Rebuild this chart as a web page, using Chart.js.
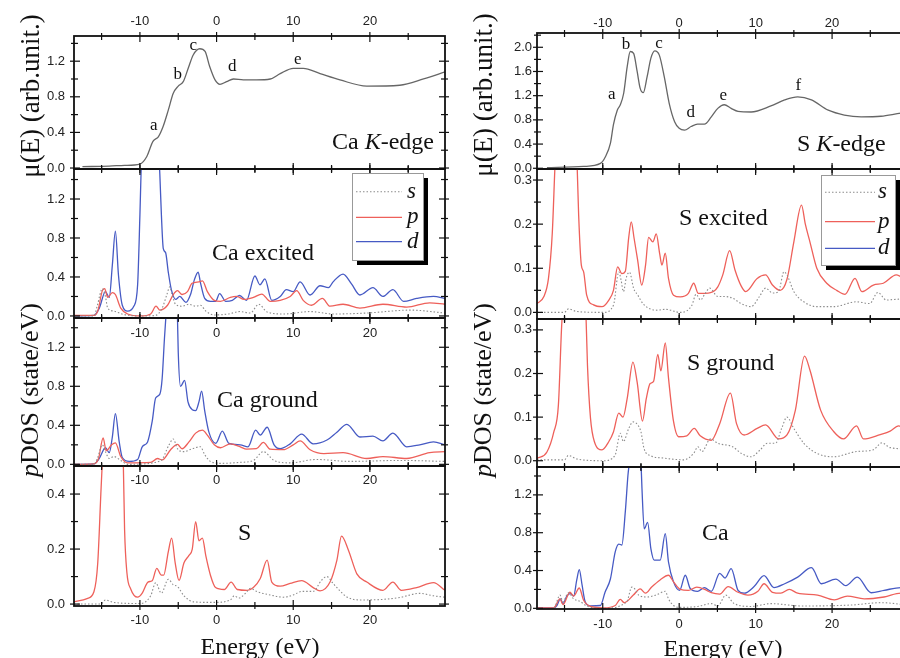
<!DOCTYPE html>
<html>
<head>
<meta charset="utf-8">
<script src="https://cdn.jsdelivr.net/npm/chart.js@4.4.1/dist/chart.umd.min.js"></script>
<style>
  body { margin: 0; width: 900px; height: 658px; overflow: hidden; background: #fff; position: relative;
         font-family: "Liberation Serif", "Times New Roman", serif; color: #111; }
  canvas { position: absolute; }
  .t { position: absolute; line-height: 1; white-space: nowrap; }
  .rot { position: absolute; line-height: 1; white-space: nowrap; transform: translate(-50%, -50%) rotate(-90deg); }
</style>
</head>
<body>
<script>
// energy axis (eV)
const energyMin = -18.6, energyMax = 29.8;
const energyMajor = [-10, 0, 10, 20];
const energyMinor = [-15, -5, 5, 15, 25];
const orbitals = ['s', 'p', 'd'];

// XANES spectra [E, mu]
const caEdge = [[-17.5,0.015],[-14,0.022],[-12,0.03],[-10,0.045],[-9.1,0.13],[-8.3,0.30],[-7.6,0.35],[-7.0,0.46],[-6.3,0.65],[-5.65,0.84],[-5.0,0.92],[-4.35,0.97],[-3.7,1.12],[-3.05,1.27],[-2.2,1.34],[-1.5,1.31],[-0.9,1.14],[-0.2,0.99],[0.44,0.94],[1.3,0.97],[2.2,1.0],[3.5,0.99],[5.2,0.99],[7.0,1.0],[8.3,1.06],[10,1.12],[11.3,1.12],[13.5,1.06],[16.1,0.99],[19.6,0.92],[23.9,0.93],[27,1.0],[29.8,1.08]];
const sEdge = [[-17.3,0.01],[-12.5,0.03],[-10.3,0.08],[-9.65,0.19],[-9.0,0.41],[-8.6,0.72],[-8.1,0.96],[-7.7,1.05],[-7.26,1.24],[-6.8,1.68],[-6.4,1.93],[-5.96,1.9],[-5.5,1.6],[-5.1,1.32],[-4.7,1.25],[-4.2,1.51],[-3.7,1.82],[-3.2,1.94],[-2.6,1.87],[-1.95,1.51],[-1.3,1.07],[-0.6,0.77],[0.0,0.66],[0.7,0.63],[1.55,0.69],[2.4,0.73],[3.3,0.73],[4.2,0.85],[5.05,0.99],[5.9,1.05],[6.8,0.99],[7.7,0.94],[9.4,0.93],[12.0,1.03],[13.8,1.13],[15.5,1.18],[17.3,1.13],[19.5,0.96],[21.6,0.88],[23.8,0.85],[26.4,0.86],[29.0,0.91],[29.8,0.92]];

// pDOS [E, states/eV]
const caExcitedS = [[-18.6,0],[-16,0],[-15.55,0.11],[-14.9,0.28],[-14.5,0.2],[-14.2,0.08],[-13.4,0.05],[-12.1,0.015],[-9.9,0],[-8.0,0.005],[-7.1,0.08],[-6.5,0.215],[-6.1,0.3],[-5.8,0.22],[-5.35,0.12],[-4.5,0.1],[-3.6,0.12],[-2.7,0.1],[-2.1,0.11],[-1.4,0.05],[-0.3,0.01],[1.5,0.02],[3.05,0.045],[4.4,0.03],[5.5,0.12],[6.6,0.04],[8.8,0.02],[12.2,0.045],[15.2,0.02],[19.6,0.03],[25.3,0.06],[29.8,0.03]];
const caExcitedP = [[-18.6,0.005],[-16,0.005],[-15.5,0.05],[-14.9,0.26],[-14.6,0.28],[-14.2,0.19],[-13.6,0.24],[-13.2,0.22],[-12.5,0.08],[-11.6,0.02],[-9.9,0],[-8.6,0.02],[-7.9,0.1],[-7.4,0.06],[-6.4,0.11],[-5.65,0.22],[-5.1,0.26],[-4.5,0.22],[-3.8,0.25],[-3.2,0.335],[-2.3,0.35],[-1.85,0.36],[-1.2,0.25],[-0.3,0.16],[0.5,0.15],[1.8,0.19],[2.6,0.2],[3.6,0.17],[4.8,0.19],[5.9,0.225],[7.0,0.15],[8.3,0.16],[9.6,0.2],[10.45,0.26],[11.3,0.16],[12.4,0.11],[13.8,0.18],[14.8,0.1],[16.5,0.12],[18.7,0.08],[21.7,0.12],[24.8,0.09],[27.8,0.135],[29.8,0.12]];
const caExcitedD = [[-18.6,0],[-16,0.005],[-15.3,0.08],[-14.5,0.25],[-14.0,0.19],[-13.6,0.52],[-13.2,0.87],[-12.8,0.42],[-12.3,0.11],[-11.6,0.05],[-10.8,0.1],[-10.3,0.32],[-10.0,1.04],[-9.7,1.9],[-9.2,2.8],[-8.5,3.1],[-7.9,2.6],[-7.6,1.8],[-7.4,1.45],[-7.2,1.04],[-6.95,0.69],[-6.65,0.65],[-6.3,0.45],[-5.9,0.27],[-5.35,0.17],[-4.8,0.2],[-4.0,0.14],[-3.4,0.22],[-2.9,0.37],[-2.4,0.45],[-2.1,0.34],[-1.55,0.18],[-0.8,0.15],[-0.13,0.15],[0.4,0.23],[1.2,0.15],[2.05,0.16],[3.0,0.21],[3.9,0.16],[5.0,0.41],[5.66,0.32],[6.3,0.38],[7.2,0.16],[8.3,0.2],[9.1,0.27],[10.0,0.25],[10.9,0.35],[12.2,0.215],[13.5,0.31],[14.6,0.29],[15.2,0.35],[16.5,0.43],[17.6,0.33],[18.7,0.215],[20.4,0.29],[21.7,0.2],[23.0,0.27],[24.4,0.15],[26.1,0.18],[28.3,0.2],[29.8,0.18]];

const caGroundS = [[-18.6,0],[-16,0],[-15.55,0.06],[-14.9,0.2],[-14.5,0.13],[-14.0,0.06],[-13.4,0.08],[-12.5,0.04],[-11.6,0.0],[-7.3,0.035],[-6.2,0.2],[-5.65,0.26],[-5.1,0.16],[-4.25,0.13],[-3.17,0.16],[-2.1,0.18],[-1.55,0.1],[-0.8,0.03],[0.5,0.01],[3.05,0.02],[4.8,0.04],[6.1,0.13],[7.5,0.04],[9.6,0.015],[13.0,0.05],[17.4,0.03],[23.9,0.04],[29.8,0.03]];
const caGroundP = [[-18.6,0],[-16,0.005],[-15.4,0.06],[-14.8,0.27],[-14.4,0.14],[-13.7,0.2],[-13.2,0.22],[-12.5,0.08],[-11.6,0.015],[-8.6,0.02],[-7.7,0.06],[-7.1,0.045],[-6.0,0.15],[-5.1,0.205],[-4.5,0.16],[-3.6,0.23],[-2.73,0.32],[-1.85,0.35],[-1.2,0.3],[-0.3,0.2],[0.5,0.17],[1.8,0.21],[3.1,0.18],[3.9,0.155],[5.2,0.16],[6.1,0.225],[7.0,0.155],[8.7,0.15],[10.0,0.2],[10.9,0.24],[12.2,0.15],[14.0,0.11],[16.5,0.12],[19.6,0.06],[21.7,0.08],[24.8,0.06],[27.8,0.12],[29.8,0.13]];
const caGroundD = [[-18.6,0],[-16,0.005],[-15.3,0.06],[-14.5,0.17],[-14.0,0.12],[-13.6,0.28],[-13.2,0.52],[-12.7,0.23],[-12.3,0.07],[-11.4,0.03],[-10.3,0.05],[-9.7,0.18],[-9.0,0.23],[-8.4,0.44],[-7.95,0.68],[-7.4,0.72],[-7.1,0.88],[-6.8,1.29],[-6.5,1.65],[-6.0,2.4],[-5.5,2.3],[-5.1,1.5],[-5.0,1.15],[-4.7,0.8],[-4.17,0.86],[-3.73,0.64],[-3.17,0.56],[-2.73,0.55],[-2.3,0.64],[-1.95,0.75],[-1.55,0.55],[-1.0,0.33],[-0.1,0.215],[0.75,0.34],[1.6,0.215],[3.1,0.2],[4.1,0.18],[5.1,0.35],[5.7,0.3],[6.6,0.38],[7.5,0.2],[8.3,0.16],[9.6,0.21],[11.1,0.31],[12.6,0.21],[14.4,0.25],[15.7,0.33],[17.0,0.41],[18.7,0.28],[20.4,0.29],[21.7,0.24],[23.0,0.32],[24.8,0.18],[26.5,0.2],[28.3,0.23],[29.8,0.2]];

const sBulkS = [[-18.6,0],[-15.1,0.0],[-14.5,0.015],[-13.4,0.006],[-9.9,0.002],[-8.6,0.03],[-7.95,0.077],[-7.2,0.04],[-6.3,0.09],[-5.65,0.07],[-5.1,0.064],[-4.25,0.03],[-2.95,0.008],[-0.3,0.006],[1.8,0.015],[2.3,0.03],[2.9,0.022],[3.8,0.04],[4.4,0.057],[5.3,0.045],[7.0,0.033],[8.7,0.025],[10.0,0.033],[11.1,0.046],[12.6,0.046],[13.7,0.087],[14.4,0.1],[15.2,0.075],[17.0,0.026],[18.7,0.015],[21.7,0.017],[23.9,0.024],[26.5,0.039],[28.3,0.03],[29.8,0.025]];
const sBulkP = [[-18.6,0.008],[-16.9,0.02],[-16,0.045],[-15.5,0.15],[-15.1,0.4],[-14.85,0.56],[-14.3,1.1],[-13.0,1.1],[-12.2,0.56],[-12.0,0.27],[-11.7,0.115],[-11.2,0.055],[-10.3,0.025],[-9.7,0.04],[-8.95,0.08],[-8.4,0.085],[-7.8,0.13],[-7.2,0.105],[-6.9,0.105],[-6.3,0.19],[-5.86,0.24],[-5.4,0.15],[-4.9,0.086],[-4.25,0.15],[-3.6,0.177],[-3.17,0.2],[-2.73,0.3],[-2.3,0.23],[-1.85,0.24],[-1.4,0.175],[-0.8,0.105],[-0.13,0.06],[1.0,0.053],[1.9,0.08],[2.7,0.053],[4.0,0.05],[4.8,0.06],[5.7,0.093],[6.6,0.16],[7.2,0.08],[8.3,0.065],[9.6,0.075],[11.1,0.085],[12.6,0.06],[13.5,0.048],[14.8,0.08],[15.7,0.16],[16.3,0.247],[17.2,0.196],[18.3,0.11],[19.6,0.08],[21.7,0.05],[23.0,0.08],[24.1,0.05],[26.1,0.06],[28.3,0.078],[29.8,0.05]];

const sExcitedS = [[-18.6,0],[-15,0],[-14.5,0.008],[-13.4,0.002],[-9.9,0],[-8.6,0.016],[-7.9,0.092],[-7.6,0.073],[-7.3,0.047],[-6.9,0.08],[-6.5,0.091],[-5.95,0.054],[-5.45,0.04],[-4.65,0.018],[-2.9,0.005],[-1.8,0.007],[0.14,0],[1.66,0.016],[2.2,0.041],[2.8,0.028],[3.3,0.04],[4.0,0.055],[5.05,0.036],[5.9,0.036],[7.0,0.032],[8.1,0.02],[9.4,0.013],[10.5,0.036],[11.3,0.055],[12.2,0.044],[13.0,0.047],[13.7,0.092],[14.1,0.085],[15.0,0.047],[16.3,0.024],[18.0,0.013],[20.2,0.013],[23.2,0.024],[24.9,0.02],[26.0,0.045],[27.1,0.028],[28.8,0.03],[29.8,0.028]];
const sExcitedP = [[-18.6,0.02],[-17.7,0.036],[-17.1,0.077],[-16.6,0.18],[-16.3,0.31],[-16.1,0.4],[-15.5,0.8],[-14.0,0.8],[-13.4,0.36],[-13.15,0.22],[-12.8,0.107],[-12.5,0.092],[-12.1,0.039],[-11.2,0.017],[-10.1,0.013],[-9.2,0.028],[-8.6,0.05],[-8.05,0.103],[-7.5,0.088],[-7.05,0.093],[-6.6,0.17],[-6.27,0.205],[-5.9,0.168],[-5.45,0.12],[-4.9,0.062],[-4.4,0.107],[-4.0,0.17],[-3.44,0.16],[-3.0,0.178],[-2.56,0.134],[-2.26,0.107],[-1.82,0.134],[-1.4,0.077],[-0.74,0.039],[0.14,0.035],[1.2,0.043],[1.9,0.066],[2.5,0.043],[4.1,0.045],[5.05,0.058],[5.7,0.085],[6.6,0.14],[7.3,0.096],[8.1,0.06],[8.7,0.047],[10.2,0.077],[11.3,0.085],[12.2,0.062],[13.2,0.05],[14.1,0.075],[15.0,0.16],[16.0,0.243],[16.5,0.2],[17.1,0.16],[18.0,0.1],[19.3,0.066],[20.6,0.05],[21.7,0.041],[23.0,0.077],[23.9,0.047],[25.4,0.062],[26.7,0.066],[28.4,0.085],[29.8,0.07]];

const sGroundS = [[-18.6,0.002],[-15,0.002],[-14.5,0.012],[-13.4,0.004],[-9.9,0],[-8.4,0.012],[-7.7,0.063],[-7.3,0.044],[-6.6,0.074],[-6.05,0.089],[-5.45,0.083],[-5.0,0.066],[-4.6,0.028],[-3.8,0.012],[-2.0,0.006],[0.6,0.002],[1.9,0.017],[2.45,0.032],[2.97,0.021],[4.1,0.05],[5.05,0.04],[7.0,0.032],[8.1,0.017],[9.4,0.009],[10.6,0.025],[11.5,0.04],[12.6,0.04],[13.4,0.074],[14.1,0.1],[15.0,0.074],[16.3,0.04],[18.0,0.017],[20.2,0.009],[23.2,0.021],[25.4,0.025],[26.5,0.041],[27.6,0.03],[29.8,0.027]];
const sGroundP = [[-18.6,0.005],[-17.3,0.02],[-16.4,0.066],[-15.8,0.128],[-15.4,0.3],[-15.1,0.4],[-14.5,0.8],[-13,0.8],[-12.3,0.4],[-12.0,0.22],[-11.6,0.097],[-11.1,0.044],[-10.1,0.025],[-9.2,0.044],[-8.6,0.066],[-7.9,0.109],[-7.35,0.1],[-6.8,0.143],[-6.05,0.226],[-5.5,0.18],[-4.8,0.091],[-4.3,0.143],[-3.8,0.177],[-3.35,0.182],[-2.8,0.244],[-2.4,0.206],[-1.82,0.27],[-1.4,0.19],[-0.74,0.09],[-0.08,0.055],[1.0,0.057],[1.97,0.074],[2.75,0.057],[4.2,0.047],[5.3,0.085],[6.7,0.155],[7.5,0.085],[8.5,0.059],[10.2,0.074],[11.3,0.082],[13.0,0.05],[14.1,0.059],[15.2,0.116],[16.4,0.24],[17.1,0.208],[18.5,0.116],[20.2,0.067],[21.5,0.05],[23.2,0.08],[24.1,0.05],[26.3,0.06],[27.6,0.068],[28.7,0.08],[29.8,0.068]];

const caBulkS = [[-18.6,0],[-16.4,0],[-15.6,0.14],[-15.2,0.07],[-14.5,0.165],[-13.8,0.1],[-12.9,0.07],[-12.1,0.025],[-9.9,0],[-6.85,0.07],[-6.2,0.225],[-5.75,0.2],[-5.3,0.14],[-4.2,0.12],[-2.9,0.145],[-1.82,0.18],[-1.4,0.1],[-0.74,0.03],[0.14,0.01],[2.4,0.02],[4.2,0.05],[5.05,0.025],[6.1,0.14],[7.2,0.05],[9.4,0.02],[12.0,0.05],[16.0,0.025],[22.5,0.035],[26.4,0.06],[29.8,0.035]];
const caBulkP = [[-18.6,0.005],[-16.4,0.005],[-15.6,0.1],[-15.2,0.04],[-14.3,0.17],[-13.8,0.13],[-13.07,0.215],[-12.5,0.085],[-11.6,0.02],[-9.9,0.005],[-8.36,0.03],[-7.7,0.095],[-7.2,0.06],[-6.0,0.14],[-5.1,0.205],[-4.4,0.16],[-3.6,0.225],[-2.5,0.3],[-1.4,0.35],[-0.74,0.28],[0.14,0.2],[1.2,0.19],[2.3,0.225],[3.6,0.19],[4.2,0.165],[5.3,0.15],[6.4,0.23],[7.7,0.17],[9.0,0.14],[10.3,0.18],[11.1,0.26],[12.2,0.17],[13.3,0.16],[14.4,0.2],[15.5,0.16],[18.1,0.14],[20.3,0.09],[22.0,0.13],[24.2,0.1],[26.8,0.12],[29.0,0.16],[29.8,0.16]];
const caBulkD = [[-18.6,0.005],[-16.4,0.005],[-16.0,0.03],[-15.55,0.1],[-15.2,0.05],[-14.7,0.13],[-14.24,0.155],[-13.8,0.13],[-13.4,0.3],[-13.07,0.41],[-12.7,0.245],[-12.3,0.07],[-11.6,0.025],[-10.3,0.03],[-9.7,0.17],[-9.0,0.31],[-8.36,0.6],[-7.9,0.68],[-7.5,0.67],[-7.05,1.02],[-6.7,1.41],[-6.45,1.6],[-6.0,2.2],[-5.5,2.2],[-5.0,1.55],[-4.87,1.27],[-4.57,0.84],[-4.13,0.91],[-3.7,0.63],[-3.26,0.51],[-2.48,0.51],[-1.82,0.79],[-1.4,0.49],[-0.74,0.28],[0.05,0.19],[0.8,0.35],[1.44,0.21],[2.4,0.18],[3.3,0.22],[4.2,0.18],[5.3,0.37],[6.0,0.32],[6.8,0.42],[7.7,0.19],[8.5,0.16],[9.8,0.23],[11.1,0.345],[12.4,0.22],[13.8,0.26],[15.5,0.33],[17.3,0.43],[18.6,0.26],[20.5,0.31],[21.8,0.24],[23.3,0.33],[25.1,0.165],[26.8,0.19],[29.0,0.22],[29.8,0.22]];

// y tick values
const ticksDos = [0, 0.4, 0.8, 1.2], minorDos = [0.2, 0.6, 1.0, 1.4];
const ticksSmall = [0, 0.2, 0.4], minorSmall = [0.1, 0.3];
const ticksTiny = [0, 0.1, 0.2, 0.3], minorTiny = [0.05, 0.15, 0.25];
const ticksSEdge = [0, 0.4, 0.8, 1.2, 1.6, 2.0], minorSEdge = [0.2, 0.6, 1.0, 1.4, 1.8, 2.2];

const RED = 'rgb(238,96,90)', BLUE = 'rgb(70,90,196)', GREY = '#8c8c8c', EDGE = '#666';
const styles = { s: [GREY, true], p: [RED, false], d: [BLUE, false] };

function series(points, color, dotted) {
  return {
    data: points.map(p => ({ x: p[0], y: p[1] })),
    borderColor: color,
    borderWidth: dotted ? 1.1 : 1.3,
    borderDash: dotted ? [1.5, 2] : [],
    pointRadius: 0,
    cubicInterpolationMode: 'monotone',
    fill: false
  };
}
const orb = (pts, o) => series(pts, styles[o][0], styles[o][1]);

function drawDeco(c, p) {
  const ctx = c.ctx, a = c.chartArea, xs = c.scales.x, ys = c.scales.y;
  ctx.save();
  ctx.strokeStyle = '#111';
  ctx.lineWidth = 1.2;
  const seg = (x0, y0, x1, y1) => { ctx.beginPath(); ctx.moveTo(x0, y0); ctx.lineTo(x1, y1); ctx.stroke(); };
  const xt = (vals, inn, out) => vals.forEach(v => {
    const px = xs.getPixelForValue(v);
    seg(px, a.top - out, px, a.top + inn);
    seg(px, a.bottom - inn, px, a.bottom + out);
  });
  const yt = (vals, inn, out) => vals.forEach(v => {
    const py = ys.getPixelForValue(v);
    if (py < a.top - 1 || py > a.bottom + 1) return;
    seg(a.left - out, py, a.left + inn, py);
    seg(a.right - inn, py, a.right + out, py);
  });
  xt(energyMajor, 6, 4); xt(energyMinor, 4, 3);
  yt(p.yTicks, 6, 4); yt(p.yMinor, 4, 3);
  ctx.lineWidth = 1.8;
  ctx.strokeRect(a.left, a.top, a.right - a.left, a.bottom - a.top);

  ctx.fillStyle = '#222';
  ctx.font = '13px "Liberation Sans", Arial, sans-serif';
  ctx.textAlign = 'center';
  ctx.textBaseline = 'alphabetic';
  (p.xLabels || []).forEach(L => {
    const y = (L.edge === 'top' ? a.top : a.bottom) + L.dy;
    energyMajor.forEach(v => ctx.fillText(String(v), xs.getPixelForValue(v), y));
  });

  if (p.legend) {
    const g = p.legend, bx = a.left + g.x, by = a.top + g.y;
    ctx.fillStyle = '#000';
    ctx.fillRect(bx + 5, by + 5, g.w, g.h);
    ctx.fillStyle = '#fff';
    ctx.fillRect(bx, by, g.w, g.h);
    ctx.strokeStyle = '#999';
    ctx.lineWidth = 1;
    ctx.strokeRect(bx + 0.5, by + 0.5, g.w, g.h);
    ctx.font = 'italic 23px "Liberation Serif", "Times New Roman", serif';
    ctx.textAlign = 'left';
    orbitals.forEach((o, i) => {
      const ly = a.top + g.rows[i];
      ctx.strokeStyle = styles[o][0];
      ctx.lineWidth = styles[o][1] ? 1.1 : 1.3;
      ctx.setLineDash(styles[o][1] ? [1.5, 2] : []);
      seg(a.left + g.lx0, ly, a.left + g.lx1, ly);
      ctx.setLineDash([]);
      ctx.fillStyle = '#111';
      ctx.fillText(o, a.left + g.tx, ly + 6);
    });
  }
  ctx.restore();
}

function makePanel(p) {
  const left = p.col === 'L';
  const cv = document.createElement('canvas');
  const cx = left ? 0 : 463, w = left ? 450 : 449;
  const cy = p.top - 40, h = p.bottom - p.top + 80;
  cv.width = w; cv.height = h;
  cv.style.left = cx + 'px';
  cv.style.top = cy + 'px';
  document.body.appendChild(cv);
  new Chart(cv, {
    type: 'line',
    data: { datasets: p.series },
    options: {
      responsive: false,
      animation: false,
      events: [],
      layout: { padding: { top: 40, bottom: 40, left: 0, right: 5 } },
      plugins: { legend: { display: false }, tooltip: { enabled: false } },
      scales: {
        x: { type: 'linear', display: false, min: energyMin, max: energyMax },
        y: {
          type: 'linear', min: p.yMin, max: p.yMax,
          afterBuildTicks: s => { s.ticks = p.yTicks.map(v => ({ value: v })); },
          afterFit: s => { s.width = 74; s.paddingTop = 0; s.paddingBottom = 0; },
          ticks: {
            autoSkip: false, padding: left ? 9 : 5, color: '#222',
            font: { family: '"Liberation Sans", Arial, sans-serif', size: 13 },
            callback: v => Number(v).toFixed(1)
          },
          grid: { display: false, drawTicks: false },
          border: { display: false }
        }
      }
    },
    plugins: [{ id: 'deco', afterDraw: c => drawDeco(c, p) }]
  });
}

const legendL = { x: 278, y: 4, w: 71, h: 87, rows: [22.7, 48.3, 72.7], lx0: 282, lx1: 328, tx: 333 };
const legendR = { x: 284, y: 6, w: 74, h: 90, rows: [23.3, 52.7, 79.3], lx0: 288, lx1: 338, tx: 341 };

[
  { col: 'L', top: 36, bottom: 169, yMin: -0.011, yMax: 1.483, yTicks: ticksDos, yMinor: minorDos,
    series: [series(caEdge, EDGE, false)], xLabels: [{ edge: 'top', dy: -11 }] },
  { col: 'L', top: 169, bottom: 318, yMin: -0.021, yMax: 1.508, yTicks: ticksDos, yMinor: minorDos,
    series: [orb(caExcitedS, 's'), orb(caExcitedP, 'p'), orb(caExcitedD, 'd')], legend: legendL },
  { col: 'L', top: 318, bottom: 466, yMin: -0.017, yMax: 1.5, yTicks: ticksDos, yMinor: minorDos,
    series: [orb(caGroundS, 's'), orb(caGroundP, 'p'), orb(caGroundD, 'd')], xLabels: [{ edge: 'top', dy: 19 }] },
  { col: 'L', top: 466, bottom: 606, yMin: -0.007, yMax: 0.502, yTicks: ticksSmall, yMinor: minorSmall,
    series: [orb(sBulkS, 's'), orb(sBulkP, 'p')], xLabels: [{ edge: 'top', dy: 18 }, { edge: 'bottom', dy: 18 }] },
  { col: 'R', top: 33, bottom: 169, yMin: -0.012, yMax: 2.236, yTicks: ticksSEdge, yMinor: minorSEdge,
    series: [series(sEdge, EDGE, false)], xLabels: [{ edge: 'top', dy: -6.5 }] },
  { col: 'R', top: 169, bottom: 319, yMin: -0.015, yMax: 0.325, yTicks: ticksTiny, yMinor: minorTiny,
    series: [orb(sExcitedS, 's'), orb(sExcitedP, 'p')], legend: legendR },
  { col: 'R', top: 319, bottom: 467, yMin: -0.0144, yMax: 0.325, yTicks: ticksTiny, yMinor: minorTiny,
    series: [orb(sGroundS, 's'), orb(sGroundP, 'p')] },
  { col: 'R', top: 467, bottom: 609, yMin: -0.007, yMax: 1.495, yTicks: ticksDos, yMinor: minorDos,
    series: [orb(caBulkS, 's'), orb(caBulkP, 'p'), orb(caBulkD, 'd')], xLabels: [{ edge: 'bottom', dy: 19 }] }
].forEach(makePanel);

// text: [html, x, baseline, size, centered]
const notes = [
  ['a', 153.7, 130, 17, true], ['b', 177.7, 79, 17, true], ['c', 193.3, 50.7, 17, true],
  ['d', 232.3, 71.7, 17, true], ['e', 297.7, 64, 17, true],
  ['a', 611.7, 99, 17, true], ['b', 626, 49, 17, true], ['c', 659, 48.3, 17, true],
  ['d', 690.7, 117.3, 17, true], ['e', 723.3, 100.7, 17, true], ['f', 798.3, 90.7, 17, true],
  ['Ca <i>K</i>-edge', 332, 149, 24, false], ['Ca excited', 212, 260, 24, false],
  ['Ca ground', 217, 406.7, 24, false], ['S', 238, 540, 24, false],
  ['S <i>K</i>-edge', 797, 150.7, 24, false], ['S excited', 679, 225, 24, false],
  ['S ground', 687, 370, 24, false], ['Ca', 702, 540, 24, false],
  ['Energy (eV)', 260, 654, 24, true], ['Energy (eV)', 723, 656, 24, true]
];
notes.forEach(([html, x, base, size, centered]) => {
  const d = document.createElement('div');
  d.className = 't';
  d.innerHTML = html;
  d.style.fontSize = size + 'px';
  d.style.left = x + 'px';
  d.style.top = (base - 0.8375 * size) + 'px';
  if (centered) d.style.transform = 'translateX(-50%)';
  document.body.appendChild(d);
});

// rotated axis titles: [html, centre x, centre y, size]
const axisTitles = [
  ['\u03bc(E) (arb.unit.)', 30, 96, 27], ['<i>p</i>DOS (state/eV)', 30, 390, 26],
  ['\u03bc(E) (arb.unit.)', 483, 95, 27], ['<i>p</i>DOS (state/eV)', 483, 390, 26]
];
axisTitles.forEach(([html, x, y, size]) => {
  const d = document.createElement('div');
  d.className = 'rot';
  d.innerHTML = html;
  d.style.fontSize = size + 'px';
  d.style.left = x + 'px';
  d.style.top = y + 'px';
  document.body.appendChild(d);
});
</script>
</body>
</html>
